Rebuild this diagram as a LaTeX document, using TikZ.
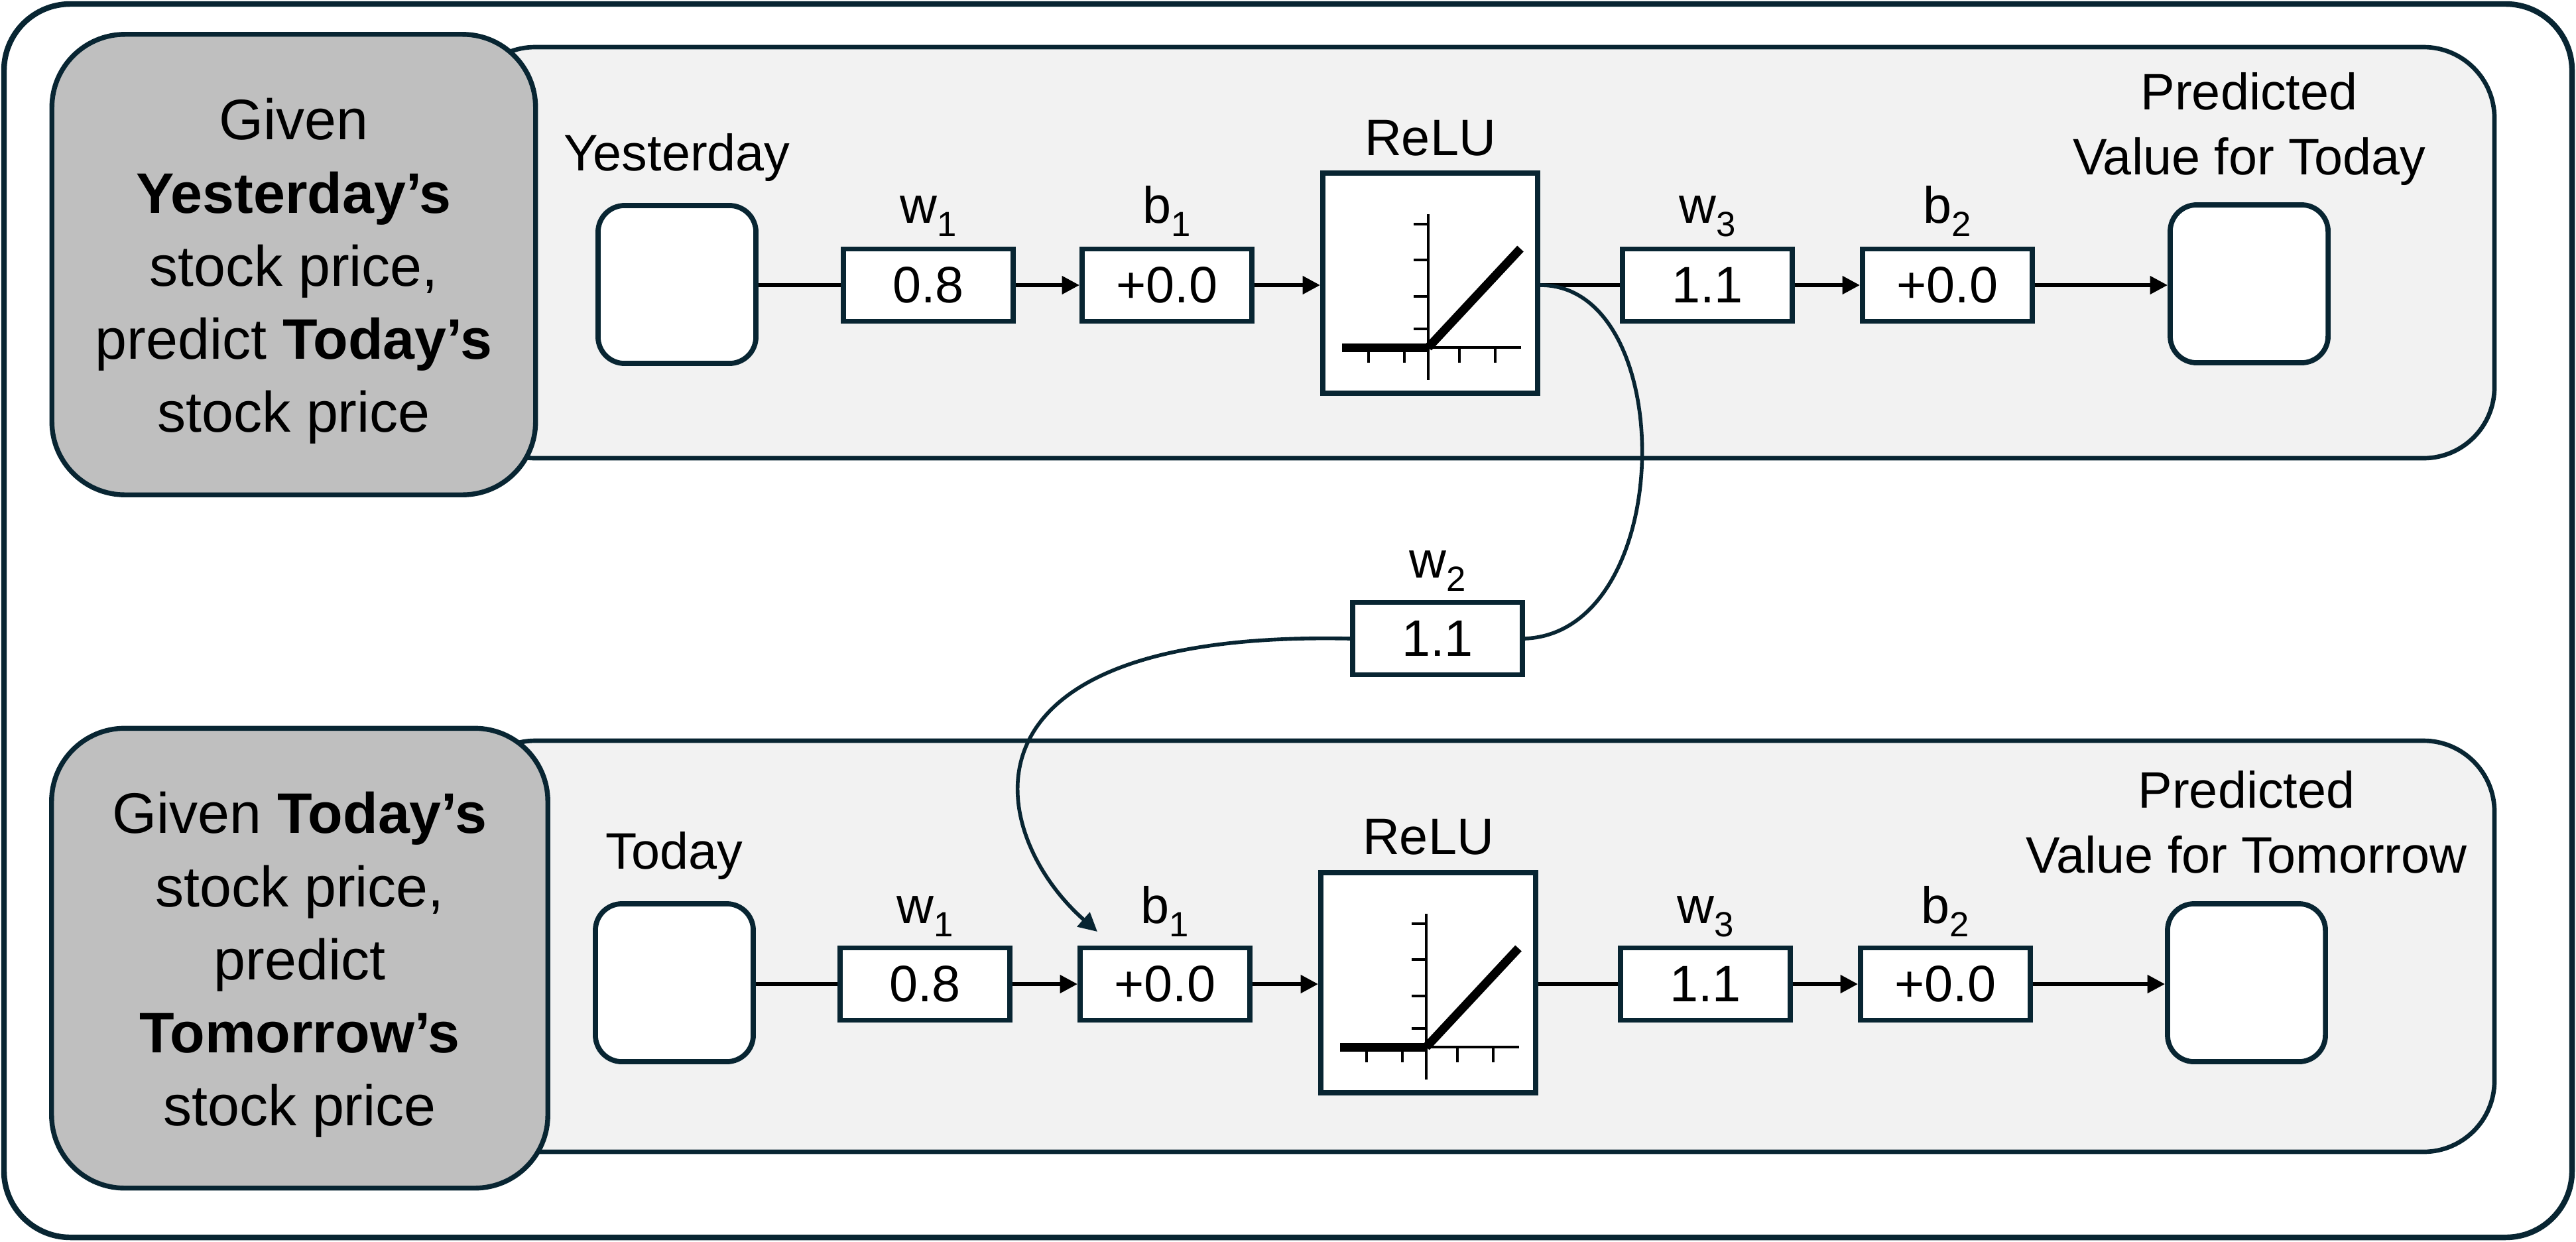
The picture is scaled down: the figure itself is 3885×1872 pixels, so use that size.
\documentclass[tikz,border=0pt]{standalone}
\usepackage{fontspec}
\setmainfont{Liberation Sans}
\usetikzlibrary{arrows.meta}
\definecolor{navy}{HTML}{082532}
\definecolor{bandfill}{HTML}{F2F2F2}
\definecolor{qfill}{HTML}{BFBFBF}
\newcommand{\wsub}[2]{#1\raisebox{-0.26em}{\fontsize{15}{15}\selectfont #2}}
\begin{document}
\begin{tikzpicture}[x=0.01cm,y=-0.01cm,
  outer/.style={draw=navy,line width=2.4pt,rounded corners=1cm},
  band/.style={draw=navy,fill=bandfill,line width=1.9pt,rounded corners=1.07cm},
  qbox/.style={draw=navy,fill=qfill,line width=2.1pt,rounded corners=1.1cm,align=center,inner sep=0pt,font=\fontsize{24.5}{31.3}\selectfont},
  iobox/.style={draw=navy,fill=white,line width=2.2pt,rounded corners=0.4cm,minimum width=2.38cm,minimum height=2.38cm,inner sep=0pt},
  wbox/.style={draw=navy,fill=white,line width=2.2pt,minimum width=2.56cm,minimum height=1.09cm,inner sep=0pt,font=\fontsize{22}{26}\selectfont},
  relubox/.style={draw=navy,fill=white,line width=2.2pt,minimum width=3.24cm,minimum height=3.32cm,inner sep=0pt},
  lbl/.style={inner sep=0pt,font=\fontsize{22}{27.6}\selectfont,align=center},
  conn/.style={line width=1.7pt,black},
  arr/.style={conn,-{Triangle[length=7.5pt,width=7.5pt]}},
  loopline/.style={draw=navy,line width=1.6pt},
]
\useasboundingbox (0,0) rectangle (3885,1872);
\draw[outer] (6,6) rectangle (3879,1866);
\draw[band] (700,71) rectangle (3762,691);
\draw[band] (700,1117) rectangle (3762,1737);

\node[qbox,minimum width=7.29cm,minimum height=6.94cm] (q1) at (443,399) {\rule{0pt}{0.82cm}Given\\\textbf{Yesterday’s}\\stock price,\\predict \textbf{Today’s}\\stock price};
\node[qbox,minimum width=7.48cm,minimum height=6.93cm] (q2) at (452,1445) {\rule{0pt}{0.82cm}Given \textbf{Today’s}\\stock price,\\predict\\\textbf{Tomorrow’s}\\stock price};

% top row
\node[iobox] (in1) at (1021,429) {};
\node[wbox] (w1a) at (1400,430) {0.8};
\node[wbox] (b1a) at (1760,430) {+0.0};
\node[relubox] (relua) at (2157,427) {};
\node[wbox] (w3a) at (2575,430) {1.1};
\node[wbox] (b2a) at (2937,430) {+0.0};
\node[iobox] (out1) at (3392,428) {};

\node[lbl,anchor=base] (lin1) at (1021,257) {Yesterday};
\node[lbl,anchor=base] (lw1a) at (1400,336) {\wsub{w}{1}};
\node[lbl,anchor=base] (lb1a) at (1760,336) {\wsub{b}{1}};
\node[lbl,anchor=base] (lrelua) at (2157,234) {ReLU};
\node[lbl,anchor=base] (lw3a) at (2575,336) {\wsub{w}{3}};
\node[lbl,anchor=base] (lb2a) at (2937,336) {\wsub{b}{2}};
\node[lbl,anchor=base] (lout1) at (3392,263) {Predicted\\Value for Today};

% bottom row
\node[iobox] (in2) at (1017,1482) {};
\node[wbox] (w1b) at (1395,1484) {0.8};
\node[wbox] (b1b) at (1757,1484) {+0.0};
\node[relubox] (relub) at (2154,1482) {};
\node[wbox] (w3b) at (2572,1484) {1.1};
\node[wbox] (b2b) at (2934,1484) {+0.0};
\node[iobox] (out2) at (3388,1482) {};

\node[lbl,anchor=base] (lin2) at (1017,1310) {Today};
\node[lbl,anchor=base] (lw1b) at (1395,1392) {\wsub{w}{1}};
\node[lbl,anchor=base] (lb1b) at (1757,1392) {\wsub{b}{1}};
\node[lbl,anchor=base] (lrelub) at (2154,1288) {ReLU};
\node[lbl,anchor=base] (lw3b) at (2572,1392) {\wsub{w}{3}};
\node[lbl,anchor=base] (lb2b) at (2934,1392) {\wsub{b}{2}};
\node[lbl,anchor=base] (lout2) at (3388,1316) {Predicted\\Value for Tomorrow};

% middle
\node[wbox] (w2) at (2168,963) {1.1};
\node[lbl,anchor=base] (lw2) at (2168,871) {\wsub{w}{2}};

% connectors top
\draw[conn] (in1.east |- w1a.west) -- (w1a.west);
\draw[arr] (w1a.east) -- (b1a.west);
\draw[arr] (b1a.east) -- (b1a.east -| relua.west);
\draw[conn] (relua.east |- w3a.west) -- (w3a.west);
\draw[arr] (w3a.east) -- (b2a.west);
\draw[arr] (b2a.east) -- (b2a.east -| out1.west);

% connectors bottom
\draw[conn] (in2.east |- w1b.west) -- (w1b.west);
\draw[arr] (w1b.east) -- (b1b.west);
\draw[arr] (b1b.east) -- (b1b.east -| relub.west);
\draw[conn] (relub.east |- w3b.west) -- (w3b.west);
\draw[arr] (w3b.east) -- (b2b.west);
\draw[arr] (b2b.east) -- (b2b.east -| out2.west);

% recurrent loop
\coordinate (tip) at (1655,1405);
\draw[loopline] (relua.east |- w3a.west) .. controls +(210,0) and +(230,-10) .. (w2.east);
\draw[loopline,-{Triangle[length=8pt,width=8pt]}] (w2.west) .. controls +(-620,-13) and +(-165,-145) .. (tip);

% ReLU icons
\foreach \r in {relua,relub} {
  \begin{scope}[shift={(\r.center)}]
    \draw[line width=3.7pt] (-133,97) -- (-3,97);
    \draw[line width=1.4pt] (-3,97) -- (137,97);
    \draw[line width=1.4pt] (-3,-104) -- (-3,146);
    \foreach \t in {-89,-35,20,69} \draw[line width=1.3pt] (-25,\t) -- (-3,\t);
    \foreach \t in {-93,-39,44,98} \draw[line width=1.3pt] (\t,97) -- (\t,120);
    \draw[line width=3.7pt] (-3,97) -- (136,-52);
  \end{scope}
}
\end{tikzpicture}
\end{document}
